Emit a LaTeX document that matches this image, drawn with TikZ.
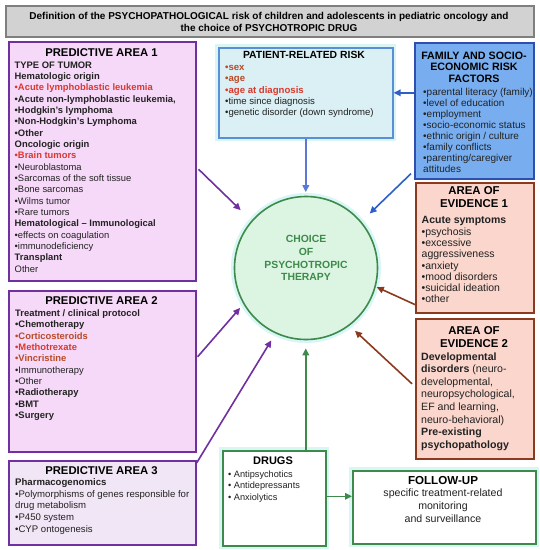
\documentclass[tikz,border=0pt]{standalone}
\usepackage{fontspec}
\setmainfont{Liberation Sans}
\usetikzlibrary{arrows.meta}
\definecolor{purp}{HTML}{7030A0}
\definecolor{pafill}{HTML}{F6D9F8}
\definecolor{pa3fill}{HTML}{F1E6F5}
\definecolor{patfill}{HTML}{DAF0F5}
\definecolor{patline}{HTML}{5A8FD8}
\definecolor{famfill}{HTML}{78AEF0}
\definecolor{famline}{HTML}{2F4FB0}
\definecolor{evfill}{HTML}{FAD6CC}
\definecolor{evline}{HTML}{8B3A1E}
\definecolor{circfill}{HTML}{DCF5E2}
\definecolor{grn}{HTML}{3D8A4A}
\definecolor{titfill}{HTML}{D2D2D2}
\definecolor{titline}{HTML}{7F7F7F}
\definecolor{glow}{HTML}{D8F6F6}
\definecolor{redA}{HTML}{D9382C}
\definecolor{redB}{HTML}{B84A26}
\definecolor{txt}{HTML}{222222}
\definecolor{arrblue}{HTML}{5B78D8}
\definecolor{arrfam}{HTML}{2E5FC8}
\newcommand\rdA[1]{\textcolor{redA}{#1}}
\newcommand\rdB[1]{\textcolor{redB}{#1}}
\newcommand\fst[1]{\rule{0pt}{#1pt}}
\begin{document}
\begin{tikzpicture}[x=1pt,y=-1pt,
  box/.style={draw, line width=1.6pt, inner sep=0pt, anchor=north west},
  glowbox/.style={preaction={draw=glow, line width=7pt}},
  tlist/.style={inner sep=0pt, anchor=north west, align=left, text=txt},
  ttl/.style={inner sep=0pt, anchor=base, font=\bfseries\fontsize{11.3}{13}\selectfont},
  conn/.style={line width=1.6pt, -{Triangle[length=7pt,width=6.5pt]}},
]
\useasboundingbox (0,0) rectangle (540,550);
\fill[white] (0,0) rectangle (540,550);

% boxes
\node[box, draw=titline, fill=titfill, minimum width=528pt, minimum height=31pt] (title) at (5,5) {};
\node[box, draw=purp, fill=pafill, minimum width=187pt, minimum height=239pt] (pa1) at (8,41) {};
\node[box, draw=purp, fill=pafill, minimum width=187pt, minimum height=161pt] (pa2) at (8,290) {};
\node[box, draw=purp, fill=pa3fill, minimum width=187pt, minimum height=84pt] (pa3) at (8,460) {};
\node[box, glowbox, draw=patline, fill=patfill, minimum width=174pt, minimum height=90pt] (pat) at (218,47) {};
\node[box, draw=famline, fill=famfill, minimum width=119pt, minimum height=136pt] (fam) at (414,42) {};
\node[box, draw=evline, fill=evfill, minimum width=118pt, minimum height=130pt] (ev1) at (415,182) {};
\node[box, draw=evline, fill=evfill, minimum width=118pt, minimum height=140pt] (ev2) at (415,318) {};
\node[box, glowbox, draw=grn, fill=white, minimum width=103pt, minimum height=95pt] (drugs) at (222,450) {};
\node[box, glowbox, draw=grn, fill=white, minimum width=183pt, minimum height=73pt] (follow) at (352,470) {};
\node[circle, glowbox, draw=grn, fill=circfill, line width=1.6pt, minimum size=143pt, inner sep=0pt] (circ) at (306,268) {};

% title text
\node[inner sep=0pt, anchor=north, align=center, font=\bfseries\fontsize{10}{12}\selectfont] (titletxt) at (269,11.5)
  {\fst{8}Definition of the PSYCHOPATHOLOGICAL risk of children and adolescents in pediatric oncology and\\
   the choice of PSYCHOTROPIC DRUG};

% predictive area 1
\node[ttl] (pa1ttl) at (101.5,56) {PREDICTIVE AREA 1};
\node[tlist, font=\fontsize{9.4}{11.35}\selectfont] (pa1txt) at (14.5,59.8)
  {\fst{8}\textbf{TYPE OF TUMOR}\\
   \textbf{Hematologic origin}\\
   \textbf{\rdA{•Acute lymphoblastic leukemia}}\\
   \textbf{•Acute non-lymphoblastic leukemia,}\\
   \textbf{•Hodgkin's lymphoma}\\
   \textbf{•Non-Hodgkin's Lymphoma}\\
   \textbf{•Other}\\
   \textbf{Oncologic origin}\\
   \textbf{\rdA{•Brain tumors}}\\
   •Neuroblastoma\\
   •Sarcomas of the soft tissue\\
   •Bone sarcomas\\
   •Wilms tumor\\
   •Rare tumors\\
   \textbf{Hematological – Immunological}\\
   •effects on coagulation\\
   •immunodeficiency\\
   \textbf{Transplant}\\
   Other};

% predictive area 2
\node[ttl] (pa2ttl) at (101.5,304) {PREDICTIVE AREA 2};
\node[tlist, font=\fontsize{9.4}{11.38}\selectfont] (pa2txt) at (15,308.1)
  {\fst{8}\textbf{Treatment / clinical protocol}\\
   \textbf{•Chemotherapy}\\
   \textbf{\rdB{•Corticosteroids}}\\
   \textbf{\rdA{•Methotrexate}}\\
   \textbf{\rdB{•Vincristine}}\\
   •Immunotherapy\\
   •Other\\
   \textbf{•Radiotherapy}\\
   \textbf{•BMT}\\
   \textbf{•Surgery}};

% predictive area 3
\node[ttl] (pa3ttl) at (101.5,474) {PREDICTIVE AREA 3};
\node[tlist, font=\fontsize{9.6}{11.7}\selectfont] (pa3txt) at (15,477.1)
  {\fst{8}\textbf{Pharmacogenomics}\\
   •Polymorphisms of genes responsible for\\
   drug metabolism\\
   •P450 system\\
   •CYP ontogenesis};

% patient-related risk
\node[ttl, font=\bfseries\fontsize{10.4}{12}\selectfont] (patttl) at (304,58.7) {PATIENT-RELATED RISK};
\node[tlist, font=\fontsize{9.6}{11.3}\selectfont] (pattxt) at (225,62.2)
  {\fst{8}\textbf{\rdB{•sex}}\\
   \textbf{\rdB{•age}}\\
   \textbf{\rdA{•age at diagnosis}}\\
   •time since diagnosis\\
   •genetic disorder (down syndrome)};

% family
\node[inner sep=0pt, anchor=north, align=center, font=\bfseries\fontsize{10.7}{11.5}\selectfont] (famttl) at (474,50.3)
  {\fst{8.5}FAMILY AND SOCIO-\\ECONOMIC RISK\\FACTORS};
\node[tlist, font=\fontsize{10}{11}\selectfont] (famtxt) at (423,87)
  {\fst{8}•parental literacy (family)\\
   •level of education\\
   •employment\\
   •socio-economic status\\
   •ethnic origin / culture\\
   •family conflicts\\
   •parenting/caregiver\\
   attitudes};

% evidence 1
\node[inner sep=0pt, anchor=north, align=center, font=\bfseries\fontsize{11.4}{13}\selectfont] (ev1ttl) at (474,185)
  {\fst{9}AREA OF\\EVIDENCE 1};
\node[tlist, font=\fontsize{10.5}{11.3}\selectfont] (ev1txt) at (421.5,215.6)
  {\fst{8}\textbf{Acute symptoms}\\
   •psychosis\\
   •excessive\\
   aggressiveness\\
   •anxiety\\
   •mood disorders\\
   •suicidal ideation\\
   •other};

% evidence 2
\node[inner sep=0pt, anchor=north, align=center, font=\bfseries\fontsize{11.4}{13.3}\selectfont] (ev2ttl) at (474,325)
  {\fst{9}AREA OF\\EVIDENCE 2};
\node[tlist, font=\fontsize{10.6}{12.6}\selectfont] (ev2txt) at (421,351.9)
  {\fst{8}\textbf{Developmental}\\
   \textbf{disorders} (neuro-\\
   developmental,\\
   neuropsychological,\\
   EF and learning,\\
   neuro-behavioral)\\
   \textbf{Pre-existing}\\
   \textbf{psychopathology}};

% circle text
\node[inner sep=0pt, anchor=north, align=center, text=grn, font=\bfseries\fontsize{10.4}{12.6}\selectfont] (circtxt) at (306,234.7)
  {\fst{8}CHOICE\\OF\\PSYCHOTROPIC\\THERAPY};

% drugs
\node[ttl, font=\bfseries\fontsize{11}{13}\selectfont] (drugsttl) at (273,464) {DRUGS};
\node[tlist, font=\fontsize{9.2}{11.5}\selectfont] (drugstxt) at (228,468.8)
  {\fst{8}• Antipsychotics\\
   • Antidepressants\\
   • Anxiolytics};

% follow-up
\node[ttl, font=\bfseries\fontsize{11.6}{13}\selectfont] (followttl) at (443,484) {FOLLOW-UP};
\node[inner sep=0pt, anchor=north, align=center, text=txt, font=\fontsize{10.6}{12.7}\selectfont] (followtxt) at (443,488.5)
  {\fst{8}specific treatment-related\\monitoring\\and surveillance};

% connectors
\draw[conn, purp, shorten >=15pt] ([xshift=2pt,yshift=-8pt]pa1.east) -- (circ.139);
\draw[conn, purp, shorten >=5pt] ([xshift=1pt,yshift=14.5pt]pa2.east) -- (circ.210);
\draw[conn, purp, shorten >=8pt] ([yshift=-3pt]pa3.north east) -- (circ.245);
\draw[conn, arrblue, shorten >=3.5pt] (pat.south) -- (pat.south |- circ.north);
\draw[conn, arrfam] (fam.west |- pat.east) -- (pat.east);
\draw[conn, arrfam, shorten >=11.5pt] ([xshift=-3pt,yshift=6pt]fam.south west) -- (circ.40);
\draw[conn, evline, shorten >=1pt] ([yshift=9pt]ev1.south west) -- (circ.-15);
\draw[conn, evline, shorten >=7.5pt] ([xshift=-3pt,yshift=5pt]ev2.west) -- (circ.-53);
\draw[conn, grn, shorten >=8pt] ([xshift=31.5pt]drugs.north) -- ([xshift=31.5pt]drugs.north |- circ.south);
\draw[conn, grn] ([yshift=2pt]drugs.east) -- ([yshift=2pt]drugs.east -| follow.west);
\end{tikzpicture}
\end{document}
